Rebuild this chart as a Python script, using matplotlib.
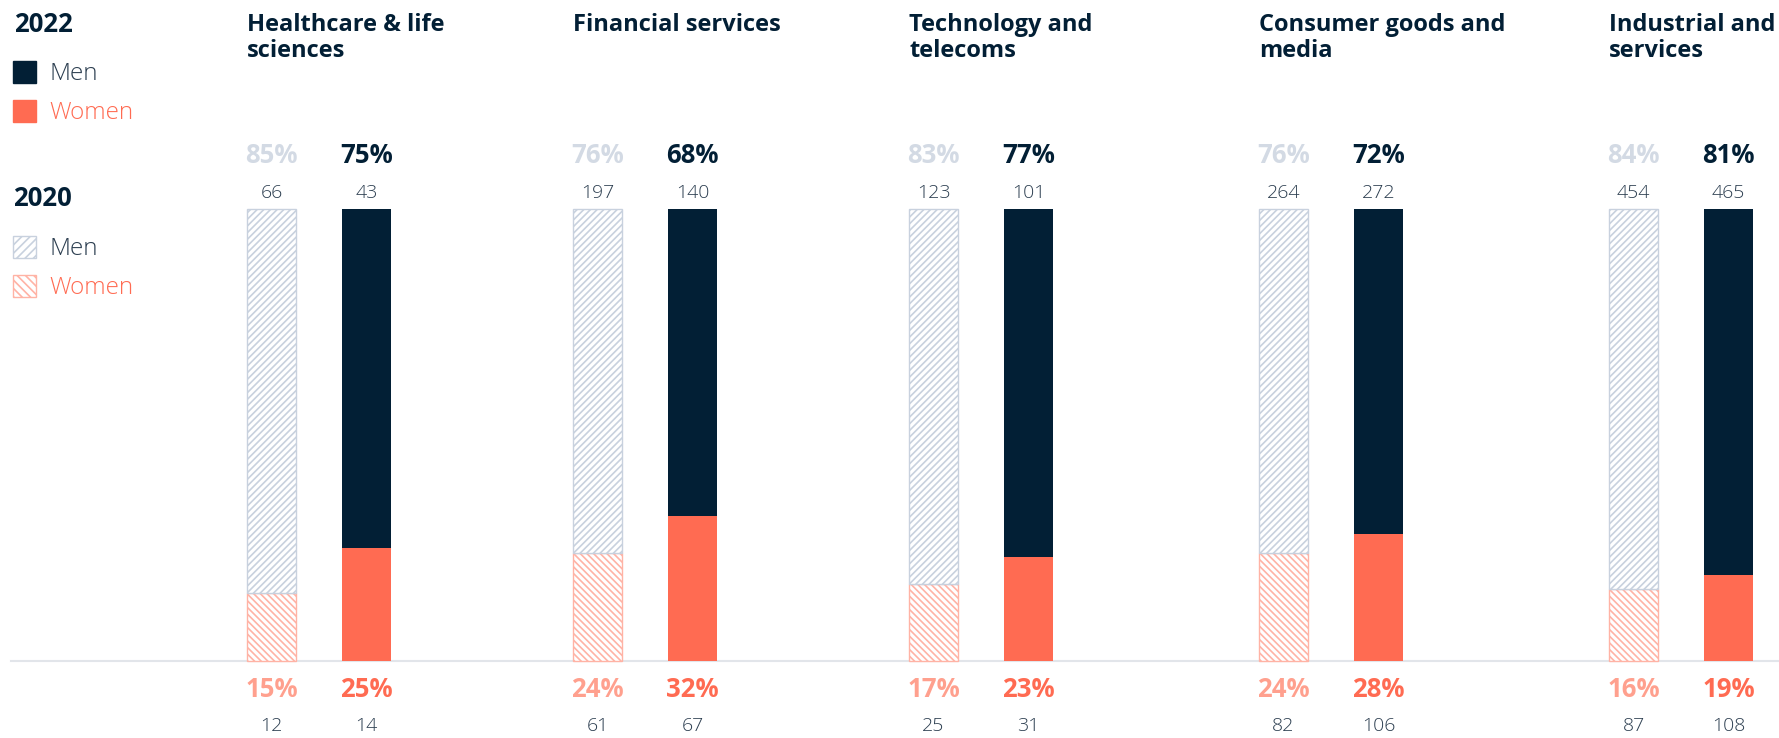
import numpy as np
import matplotlib.pyplot as plt
from matplotlib.patches import Rectangle

# data
sectors = ['Healthcare & life\nsciences', 'Financial services', 'Technology and\ntelecoms',
           'Consumer goods and\nmedia', 'Industrial and\nservices']
men_2020_pct = [85, 76, 83, 76, 84]
women_2020_pct = [15, 24, 17, 24, 16]
men_2022_pct = [75, 68, 77, 72, 81]
women_2022_pct = [25, 32, 23, 28, 19]
men_2020_n = [66, 197, 123, 264, 454]
men_2022_n = [43, 140, 101, 272, 465]
women_2020_n = [12, 61, 25, 82, 87]
women_2022_n = [14, 67, 31, 106, 108]

NAVY = '#021f35'
CORAL = '#ff6b52'
CORAL_LIGHT = '#ffb3a5'
CORAL_PCT = '#ffa08e'
GREY_HATCH = '#c8d1de'
GREY_PCT = '#d3dae4'
SLATE = '#2c3e50'

W, H = 1779, 738
plt.rcParams['font.family'] = ['Open Sans', 'DejaVu Sans']
plt.rcParams['hatch.linewidth'] = 1.2

fig = plt.figure(figsize=(W / 100, H / 100), dpi=100)
ax = fig.add_axes([0, 0, 1, 1])

# layout: pixel x of each group's left bar, baseline / top of bars in pixels
group_left = [247, 573, 909, 1259, 1609]
bar_w = 49
offset_2022 = 95
base_px, top_px = 661, 209
scale = (base_px - top_px) / 100.0
ax.set_xlim(0, W)
ax.set_ylim(-(H - base_px) / scale, base_px / scale)
ax.axis('off')


def fig_px(x, y):
    return x / W, 1 - y / H


ax.axhline(0, xmin=11 / W, xmax=1, color='#e2e5ea', lw=1.5, zorder=1)

for i, name in enumerate(sectors):
    x20 = group_left[i]
    x22 = x20 + offset_2022
    # 2020 hatched bars
    ax.bar(x20, women_2020_pct[i], width=bar_w, align='edge', color='white',
           edgecolor=CORAL_LIGHT, hatch='\\\\\\\\\\', lw=1, zorder=2)
    ax.bar(x20, men_2020_pct[i], bottom=women_2020_pct[i], width=bar_w, align='edge',
           color='white', edgecolor=GREY_HATCH, hatch='/////', lw=1, zorder=2)
    # 2022 solid bars
    ax.bar(x22, women_2022_pct[i], width=bar_w, align='edge', color=CORAL, lw=0, zorder=2)
    ax.bar(x22, men_2022_pct[i], bottom=women_2022_pct[i], width=bar_w, align='edge',
           color=NAVY, lw=0, zorder=2)

    c20 = x20 + bar_w / 2
    c22 = x22 + bar_w / 2
    ax.text(c20, 111.9, f'{men_2020_pct[i]}%', ha='center', va='center', fontsize=18.5,
            fontweight='bold', color=GREY_PCT)
    ax.text(c22, 111.9, f'{men_2022_pct[i]}%', ha='center', va='center', fontsize=18.5,
            fontweight='bold', color=NAVY)
    ax.text(c20, 103.6, str(men_2020_n[i]), ha='center', va='center', fontsize=14,
            fontweight='light', color=SLATE)
    ax.text(c22, 103.6, str(men_2022_n[i]), ha='center', va='center', fontsize=14,
            fontweight='light', color=SLATE)
    ax.text(c20, -6.2, f'{women_2020_pct[i]}%', ha='center', va='center', fontsize=18.5,
            fontweight='bold', color=CORAL_PCT)
    ax.text(c22, -6.2, f'{women_2022_pct[i]}%', ha='center', va='center', fontsize=18.5,
            fontweight='bold', color=CORAL)
    ax.text(c20, -14.4, str(women_2020_n[i]), ha='center', va='center', fontsize=14,
            fontweight='light', color=SLATE)
    ax.text(c22, -14.4, str(women_2022_n[i]), ha='center', va='center', fontsize=14,
            fontweight='light', color=SLATE)

    # sector title
    fig.text(*fig_px(x20, 13), name, ha='left', va='top', fontsize=17,
             fontweight='bold', color=NAVY, linespacing=1.12)

# legend
fig.text(*fig_px(14, 24), '2022', ha='left', va='center', fontsize=18.5,
         fontweight='bold', color=NAVY)
fig.text(*fig_px(13, 199), '2020', ha='left', va='center', fontsize=18.5,
         fontweight='bold', color=NAVY)
legend_items = [
    (72, 'Men', dict(facecolor=NAVY, edgecolor=NAVY), SLATE),
    (111, 'Women', dict(facecolor=CORAL, edgecolor=CORAL), CORAL),
    (247, 'Men', dict(facecolor='white', edgecolor=GREY_HATCH, hatch='////'), SLATE),
    (286, 'Women', dict(facecolor='white', edgecolor=CORAL_LIGHT, hatch='\\\\\\\\'), CORAL),
]
for yc, label, style, tcol in legend_items:
    x0, y0 = fig_px(13, yc + 11)
    fig.add_artist(Rectangle((x0, y0), 23 / W, 22 / H, transform=fig.transFigure,
                             lw=1, **style))
    fig.text(*fig_px(49, yc + 2), label, ha='left', va='center', fontsize=17.5,
             fontweight='light', color=tcol)

fig.savefig('out.png', dpi=100)
